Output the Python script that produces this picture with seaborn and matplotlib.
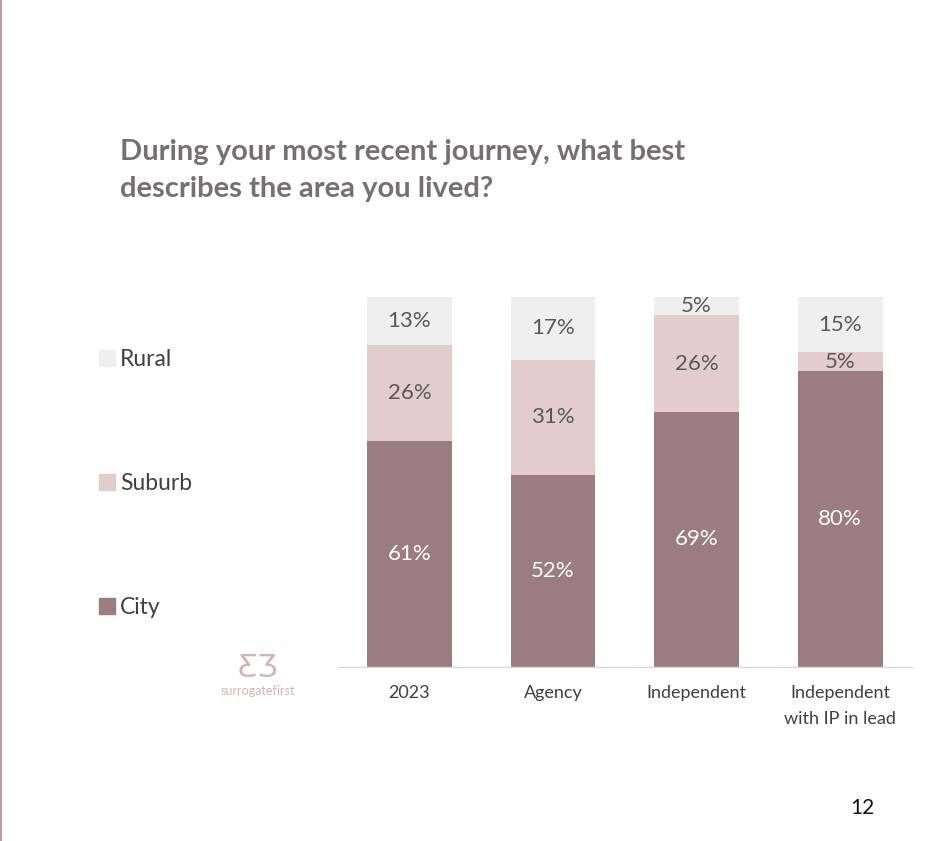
import numpy as np
import pandas as pd
import matplotlib
matplotlib.use("Agg")
import matplotlib.pyplot as plt
import matplotlib.patches as mpatches
import seaborn as sns

categories = ["2023", "Agency", "Independent", "Independent\nwith IP in lead"]
city = [61, 52, 69, 80]
suburb = [26, 31, 26, 5]
rural = [13, 17, 5, 15]

colors = {"City": "#9b7c81", "Suburb": "#e3cccd", "Rural": "#f0efef"}

sns.set_style("white")
plt.rcParams["font.family"] = ["Lato", "DejaVu Sans"]

fig = plt.figure(figsize=(9.46, 8.41), dpi=100)
ax = fig.add_axes([0.357, 0.2069, 0.607, 0.4400])

df = pd.DataFrame({"cat": categories, "City": city, "Suburb": suburb, "Rural": rural})
df["cum_city"] = df["City"]
df["cum_suburb"] = df["City"] + df["Suburb"]
df["cum_rural"] = df["cum_suburb"] + df["Rural"]

# draw back to front so the stacks look right
for col, c in [("cum_rural", "Rural"), ("cum_suburb", "Suburb"), ("cum_city", "City")]:
    sns.barplot(data=df, x="cat", y=col, color=colors[c], width=0.59,
                errorbar=None, saturation=1, ax=ax, linewidth=0)

# value labels in the middle of each segment
for i, row in df.iterrows():
    segs = [("City", 0, row["City"], "white"),
            ("Suburb", row["cum_city"], row["Suburb"], "#595959"),
            ("Rural", row["cum_suburb"], row["Rural"], "#595959")]
    for name, base, val, tc in segs:
        ax.text(i, base + val / 2, f"{val}%", ha="center", va="center",
                fontsize=16, color=tc)

ax.set_ylim(0, 100)
ax.set_xlim(-0.5, 3.5)
ax.set_xlabel("")
ax.set_ylabel("")
ax.set_yticks([])
for s in ["top", "right", "left"]:
    ax.spines[s].set_visible(False)
ax.spines["bottom"].set_color("#d9d9d9")
ax.spines["bottom"].set_linewidth(1)
ax.set_xticks(range(len(categories)))
ax.set_xticklabels(categories, fontsize=13, color="#404040", linespacing=1.75)
ax.tick_params(axis="x", which="major", length=0, pad=13)
ax.set_xticks(np.arange(-0.5, len(categories)), minor=True)
ax.tick_params(axis="x", which="minor", length=5, color="#d9d9d9", width=1)

handles = [mpatches.Patch(color=colors[k], label=k) for k in ["Rural", "Suburb", "City"]]
fig.legend(handles=handles, loc="upper left", bbox_to_anchor=(0.083, 0.61),
           frameon=False, fontsize=16.5, handlelength=0.7, handleheight=0.7,
           handletextpad=0.2, labelspacing=4.5, labelcolor="#404040")

fig.text(0.127, 0.797, "During your most recent journey, what best\ndescribes the area you lived?",
         fontsize=21, fontweight="bold", color="#767171", ha="left", va="center",
         linespacing=1.55)

# logo
fig.text(0.273, 0.206, "\u01b8\u01b7", fontsize=22, color="#d4b3b8", ha="center", va="center",
         family="DejaVu Sans")
fig.text(0.273, 0.178, "surrogatefirst", fontsize=9, color="#d4b3b8", ha="center", va="center")

fig.text(0.912, 0.039, "12", fontsize=15, color="#111111", ha="center", va="center")

fig.add_artist(plt.Line2D([0.001, 0.001], [0, 1], color="#b08a90", linewidth=1.2,
                          transform=fig.transFigure))

fig.savefig("out.png", dpi=100, facecolor="white")
